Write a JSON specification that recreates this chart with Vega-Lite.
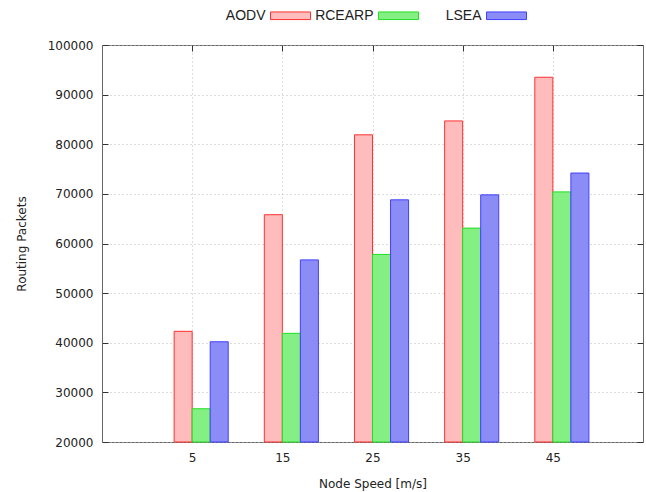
{
  "$schema": "https://vega.github.io/schema/vega-lite/v6.json",
  "width": 541,
  "height": 397,
  "autosize": "none",
  "padding": {"left": 102, "top": 45, "right": 3, "bottom": 50},
  "background": "white",
  "config": {
    "view": {"stroke": "#666666", "strokeWidth": 1},
    "axis": {
      "labelFont": "DejaVu Sans",
      "labelFontSize": 12,
      "labelColor": "#222222",
      "titleFont": "DejaVu Sans",
      "titleFontSize": 12,
      "titleFontWeight": "normal",
      "titleColor": "#222222",
      "domainColor": "#666666",
      "tickColor": "#333333",
      "tickWidth": 1,
      "gridColor": "#bbbbbb",
      "gridDash": [1, 3],
      "gridWidth": 1
    }
  },
  "data": {
    "values": [
      {"speed": 5, "protocol": "AODV", "packets": 42300},
      {"speed": 5, "protocol": "RCEARP", "packets": 26700},
      {"speed": 5, "protocol": "LSEA", "packets": 40200},
      {"speed": 15, "protocol": "AODV", "packets": 65800},
      {"speed": 15, "protocol": "RCEARP", "packets": 41900},
      {"speed": 15, "protocol": "LSEA", "packets": 56700},
      {"speed": 25, "protocol": "AODV", "packets": 81900},
      {"speed": 25, "protocol": "RCEARP", "packets": 57800},
      {"speed": 25, "protocol": "LSEA", "packets": 68800},
      {"speed": 35, "protocol": "AODV", "packets": 84700},
      {"speed": 35, "protocol": "RCEARP", "packets": 63100},
      {"speed": 35, "protocol": "LSEA", "packets": 69800},
      {"speed": 45, "protocol": "AODV", "packets": 93500},
      {"speed": 45, "protocol": "RCEARP", "packets": 70400},
      {"speed": 45, "protocol": "LSEA", "packets": 74200}
    ]
  },
  "transform": [
    {"calculate": "datum.speed + (datum.protocol === 'AODV' ? -2 : (datum.protocol === 'RCEARP' ? 0 : 2))", "as": "xs"},
    {"calculate": "datum.xs + 2", "as": "xe"}
  ],
  "layer": [
    {
      "mark": {"type": "bar", "strokeWidth": 1},
      "encoding": {
        "x": {
          "field": "xs", "type": "quantitative",
          "scale": {"domain": [-5, 55], "nice": false, "zero": false},
          "axis": {"values": [5, 15, 25, 35, 45], "title": "Node Speed [m/s]", "grid": true, "tickSize": -6, "labelPadding": 16, "titlePadding": 15, "domain": false}
        },
        "x2": {"field": "xe"},
        "y": {
          "field": "packets", "type": "quantitative",
          "scale": {"domain": [20000, 100000], "nice": false, "zero": false},
          "axis": {"values": [20000, 30000, 40000, 50000, 60000, 70000, 80000, 90000, 100000], "format": "d", "title": "Routing Packets", "grid": true, "tickSize": -6, "labelPadding": 15, "titlePadding": 19, "domain": false}
        },
        "y2": {"datum": 20000},
        "fill": {
          "field": "protocol", "type": "nominal",
          "scale": {"domain": ["AODV", "RCEARP", "LSEA"], "range": ["#ffbcbc", "#84f084", "#8c8cf6"]},
          "legend": {
            "title": null,
            "orient": "none",
            "direction": "horizontal",
            "legendX": 168,
            "legendY": -50,
            "symbolType": "M-1,-0.19H1V0.19H-1Z",
            "symbolSize": 1600,
            "symbolStrokeWidth": 1,
            "labelAlign": "right",
            "labelOffset": -45.5,
            "labelFont": "Liberation Sans",
            "labelFontSize": 14,
            "labelColor": "#222222",
            "columnPadding": 2,
            "gridAlign": "all",
            "columns": 3
          }
        },
        "stroke": {
          "field": "protocol", "type": "nominal",
          "scale": {"domain": ["AODV", "RCEARP", "LSEA"], "range": ["#ff3030", "#22dd22", "#4040ff"]},
          "legend": null
        }
      }
    },
    {
      "mark": {"type": "bar", "opacity": 0},
      "encoding": {
        "x": {
          "field": "xs", "type": "quantitative",
          "axis": {"orient": "top", "values": [5, 15, 25, 35, 45], "labels": false, "title": null, "grid": false, "tickSize": -6, "domain": false}
        },
        "x2": {"field": "xe"},
        "y": {
          "field": "packets", "type": "quantitative",
          "axis": {"orient": "right", "values": [20000, 30000, 40000, 50000, 60000, 70000, 80000, 90000, 100000], "labels": false, "title": null, "grid": false, "tickSize": -6, "domain": false}
        },
        "y2": {"datum": 20000}
      }
    }
  ],
  "resolve": {"axis": {"x": "independent", "y": "independent"}}
}
